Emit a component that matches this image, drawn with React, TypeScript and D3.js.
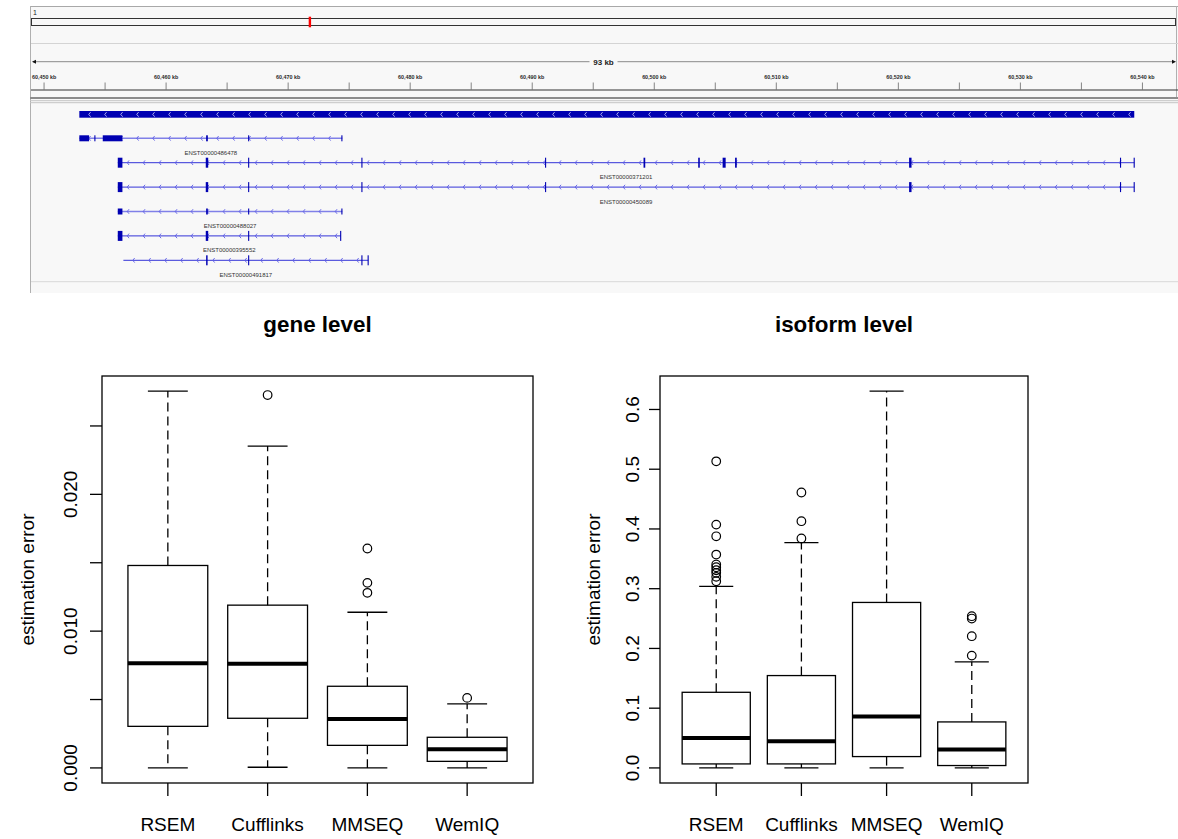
import React from 'react';
import * as d3 from 'd3';

// =============================================================================
// Data
// =============================================================================

// genome browser (chr1, positions in kb)
const CHR_LENGTH_KB = 249250.6;
const VIEW_START = 60448.93;
const VIEW_END = 60542.75;
const RULER_TICKS = d3.range(60450, 60541, 5);
const GENE_START = 60452.89;
const GENE_END = 60539.33;

const TX_NAMES = [
  'ENST00000486478',
  'ENST00000371201',
  'ENST00000450089',
  'ENST00000488027',
  'ENST00000395552',
  'ENST00000491817',
];
const TX_START = [60452.89, 60456.04, 60456.04, 60456.04, 60456.04, 60456.5];
const TX_END = [60474.44, 60539.33, 60539.33, 60474.44, 60474.31, 60476.57];
const TX_CODING = [false, true, true, false, true, true];
const TX_EXONS: [number, number][][] = [
  [[60452.89, 60453.69], [60454.12, 60454.2], [60454.81, 60456.42], [60463.28, 60463.42], [60466.72, 60466.78], [60474.36, 60474.44]],
  [[60456.04, 60456.42], [60463.25, 60463.45], [60466.72, 60466.78], [60476.0, 60476.08], [60491.05, 60491.1], [60499.12, 60499.26], [60503.6, 60503.73], [60505.6, 60505.85], [60506.62, 60506.76], [60520.88, 60521.08], [60538.16, 60538.22], [60539.28, 60539.33]],
  [[60456.04, 60456.42], [60463.25, 60463.45], [60466.72, 60466.78], [60476.0, 60476.08], [60491.05, 60491.1], [60520.88, 60521.08], [60538.16, 60538.22], [60539.28, 60539.33]],
  [[60456.04, 60456.42], [60463.28, 60463.42], [60466.72, 60466.78], [60474.36, 60474.44]],
  [[60456.04, 60456.42], [60463.25, 60463.45], [60466.72, 60466.78], [60474.26, 60474.31]],
  [[60463.28, 60463.4], [60466.72, 60466.78], [60476.0, 60476.06], [60476.51, 60476.57]],
];

// boxplots
const METHODS = ['RSEM', 'Cufflinks', 'MMSEQ', 'WemIQ'];

const GENE_LOW = [0, 0.00005, 0, 0];
const GENE_Q1 = [0.00304, 0.00363, 0.00165, 0.00048];
const GENE_MED = [0.00765, 0.00761, 0.00358, 0.00136];
const GENE_Q3 = [0.0148, 0.0119, 0.00597, 0.00224];
const GENE_HIGH = [0.02755, 0.02353, 0.01138, 0.00468];
const GENE_OUT = [[], [0.02726], [0.01604, 0.01353, 0.0128], [0.00512]];
const GENE_TICKS = [0, 0.005, 0.01, 0.015, 0.02, 0.025];
const GENE_LABELS = [0, 0.01, 0.02];

const ISO_LOW = [0, 0, 0, 0];
const ISO_Q1 = [0.0067, 0.0067, 0.019, 0.004];
const ISO_MED = [0.0503, 0.0446, 0.086, 0.0307];
const ISO_Q3 = [0.1266, 0.1546, 0.277, 0.077];
const ISO_HIGH = [0.304, 0.377, 0.6308, 0.1776];
const ISO_OUT = [
  [0.5132, 0.4073, 0.3877, 0.3571, 0.3404, 0.3359, 0.3309, 0.3265, 0.3198, 0.3125],
  [0.461, 0.413, 0.384],
  [],
  [0.254, 0.25, 0.2205, 0.188],
];
const ISO_TICKS = [0, 0.1, 0.2, 0.3, 0.4, 0.5, 0.6];
const ISO_LABELS = ISO_TICKS;

// =============================================================================
// Constants
// =============================================================================

const W = 1178;
const H = 839;
const FONT = '"Liberation Sans", Arial, Helvetica, sans-serif';
const IGV_BG = '#f8f8f8';
const GENE_BLUE = '#0000b2';
const PLOT_TOP = 376;
const PLOT_BOTTOM = 783;

// =============================================================================
// Genome browser panel
// =============================================================================

function GenomeBrowser() {
  const x = d3.scaleLinear().domain([VIEW_START, VIEW_END]).range([31, 1176]);
  const chrX = d3.scaleLinear().domain([0, CHR_LENGTH_KB]).range([31, 1176]);
  const markX0 = chrX(VIEW_START);
  const markX1 = Math.max(chrX(VIEW_END), markX0 + 2.4);
  const fmt = d3.format(',');

  const rowY = (i: number) => 138.3 + i * 24.4;

  const chevrons = (x0: number, x1: number, y: number, color: string, key: string) => {
    const out = [];
    for (let cx = x0 + 10; cx < x1 - 4; cx += 16) {
      out.push(
        <path
          key={`${key}-${cx}`}
          d={`M${cx + 1.3},${y - 2.3} L${cx - 0.6},${y} L${cx + 1.3},${y + 2.3}`}
          fill="none"
          stroke={color}
          strokeWidth={0.9}
        />
      );
    }
    return out;
  };

  const kbLabel = `${Math.floor(VIEW_END - VIEW_START)} kb`;
  const midX = (x(VIEW_START) + x(VIEW_END)) / 2;

  return (
    <g>
      {/* panel background */}
      <rect x={30} y={6} width={W - 30} height={287} fill={IGV_BG} />
      <line x1={30} y1={6.5} x2={W} y2={6.5} stroke="#a8a8a8" strokeWidth={1} />
      <line x1={30.5} y1={6} x2={30.5} y2={293} stroke="#b0b0b0" strokeWidth={1} />
      <line x1={W - 1.5} y1={6} x2={W - 1.5} y2={98} stroke="#b0b0b0" strokeWidth={1} />

      {/* chromosome ideogram */}
      <text x={33} y={15} fontSize={7} fontFamily={FONT} fill="#222">1</text>
      <rect x={31.5} y={18.5} width={1144} height={7} fill="none" stroke="#333" strokeWidth={1} />
      <rect x={markX0} y={16.7} width={markX1 - markX0} height={10.6} fill="#ff0000" />
      <line x1={31} y1={43.5} x2={W} y2={43.5} stroke="#d4d4d4" strokeWidth={1} />

      {/* ruler */}
      <line x1={x(VIEW_START) + 2} y1={61.7} x2={midX - 14} y2={61.7} stroke="#8a8a8a" strokeWidth={1} />
      <line x1={midX + 14} y1={61.7} x2={x(VIEW_END) - 2} y2={61.7} stroke="#8a8a8a" strokeWidth={1} />
      <path d={`M${x(VIEW_START) + 1},61.7 L${x(VIEW_START) + 5},59.7 L${x(VIEW_START) + 5},63.7 Z`} fill="#111" />
      <path d={`M${x(VIEW_END)},61.7 L${x(VIEW_END) - 4},59.7 L${x(VIEW_END) - 4},63.7 Z`} fill="#111" />
      <text x={midX} y={64.5} textAnchor="middle" fontSize={8} fontWeight="bold" fontFamily={FONT} fill="#222">
        {kbLabel}
      </text>
      {RULER_TICKS.map((t) => (
        <g key={t}>
          <line x1={x(t)} y1={82.5} x2={x(t)} y2={89.5} stroke="#777" strokeWidth={0.9} />
          {t % 10 === 0 && (
            <text x={x(t)} y={79} textAnchor="middle" fontSize={5.4} fontWeight="bold" fontFamily={FONT} fill="#2a2a2a">
              {`${fmt(t)} kb`}
            </text>
          )}
        </g>
      ))}
      <line x1={31} y1={90} x2={W} y2={90} stroke="#333" strokeWidth={1} />
      <line x1={30} y1={98} x2={W} y2={98} stroke="#8c8c8c" strokeWidth={2} />
      <line x1={30} y1={100.7} x2={W} y2={100.7} stroke="#c4c4c4" strokeWidth={1} />
      <line x1={30} y1={102.7} x2={W} y2={102.7} stroke="#c4c4c4" strokeWidth={1} />

      {/* collapsed gene */}
      <rect x={x(GENE_START)} y={111} width={x(GENE_END) - x(GENE_START)} height={6.7} fill={GENE_BLUE} />
      {chevrons(x(GENE_START), x(GENE_END), 114.4, '#b8b8f0', 'gene')}

      {/* transcripts */}
      {TX_NAMES.map((name, i) => {
        const y = rowY(i);
        const xs = x(TX_START[i]);
        const xe = x(TX_END[i]);
        const coding = TX_CODING[i];
        const lineColor = coding ? '#3434d8' : '#8080e8';
        const exonH = coding ? 10 : 6;
        return (
          <g key={name}>
            <line x1={xs} y1={y} x2={xe} y2={y} stroke={lineColor} strokeWidth={coding ? 1 : 1.6} />
            {chevrons(xs, xe, y, '#5c5ce6', name)}
            {TX_EXONS[i].map(([a, b], j) => {
              const ex0 = x(a);
              const ew = Math.max(1.1, x(b) - ex0);
              return <rect key={j} x={ex0} y={y - exonH / 2} width={ew} height={exonH} fill={GENE_BLUE} />;
            })}
            <text x={(xs + xe) / 2} y={y + 16.5} textAnchor="middle" fontSize={6} fontFamily={FONT} fill="#333">
              {name}
            </text>
          </g>
        );
      })}
      <line x1={31} y1={281.7} x2={W} y2={281.7} stroke="#d8d8d8" strokeWidth={1} />
    </g>
  );
}

// =============================================================================
// Boxplot panel (R style)
// =============================================================================

interface BoxPanelProps {
  x0: number;
  x1: number;
  title: string;
  low: number[];
  q1: number[];
  med: number[];
  q3: number[];
  high: number[];
  outliers: number[][];
  ticks: number[];
  labels: number[];
  fmt: (v: number) => string;
  labelOffset: number;
  titleOffset: number;
  tickLen: number;
}

function BoxPanel({
  x0, x1, title, low, q1, med, q3, high, outliers, ticks, labels, fmt, labelOffset, titleOffset, tickLen,
}: BoxPanelProps) {
  const allVals = [...low, ...high, ...outliers.flat()];
  const lo = d3.min(allVals) as number;
  const hi = d3.max(allVals) as number;
  const pad = (hi - lo) * 0.04;
  const y = d3.scaleLinear().domain([lo - pad, hi + pad]).range([PLOT_BOTTOM, PLOT_TOP]);
  const x = d3.scaleLinear().domain([0.34, 4.66]).range([x0, x1]);
  const bw = x(0.4) - x(0);
  const sw = x(0.2) - x(0);
  const lw = 1.3;
  const dash = '9,5';

  return (
    <g fontFamily={FONT}>
      <text x={(x0 + x1) / 2} y={332} textAnchor="middle" fontSize={22.4} fontWeight="bold" fill="#000">
        {title}
      </text>

      {METHODS.map((m, i) => {
        const cx = x(i + 1);
        return (
          <g key={m}>
            {/* whiskers */}
            <line x1={cx} y1={y(q3[i])} x2={cx} y2={y(high[i])} stroke="#000" strokeWidth={lw} strokeDasharray={dash} />
            <line x1={cx} y1={y(q1[i])} x2={cx} y2={y(low[i])} stroke="#000" strokeWidth={lw} strokeDasharray={dash} />
            <line x1={cx - sw} y1={y(high[i])} x2={cx + sw} y2={y(high[i])} stroke="#000" strokeWidth={lw} />
            <line x1={cx - sw} y1={y(low[i])} x2={cx + sw} y2={y(low[i])} stroke="#000" strokeWidth={lw} />
            {/* box */}
            <rect
              x={cx - bw}
              y={y(q3[i])}
              width={2 * bw}
              height={y(q1[i]) - y(q3[i])}
              fill="none"
              stroke="#000"
              strokeWidth={lw}
            />
            <line x1={cx - bw} y1={y(med[i])} x2={cx + bw} y2={y(med[i])} stroke="#000" strokeWidth={4} />
            {outliers[i].map((o, j) => (
              <circle key={j} cx={cx} cy={y(o)} r={4.3} fill="none" stroke="#000" strokeWidth={1.2} />
            ))}
            {/* x axis tick + label */}
            <line x1={cx} y1={PLOT_BOTTOM} x2={cx} y2={PLOT_BOTTOM + 13} stroke="#000" strokeWidth={lw} />
            <text x={cx} y={831} textAnchor="middle" fontSize={19} fill="#000">
              {m}
            </text>
          </g>
        );
      })}

      {/* y axis */}
      {ticks.map((t) => (
        <line key={t} x1={x0} y1={y(t)} x2={x0 - tickLen} y2={y(t)} stroke="#000" strokeWidth={lw} />
      ))}
      {labels.map((t) => (
        <text
          key={t}
          transform={`translate(${x0 - labelOffset},${y(t)}) rotate(-90)`}
          dy="0.35em"
          textAnchor="middle"
          fontSize={19}
          fill="#000"
        >
          {fmt(t)}
        </text>
      ))}
      <text
        transform={`translate(${x0 - titleOffset},${(PLOT_TOP + PLOT_BOTTOM) / 2}) rotate(-90)`}
        dy="0.35em"
        textAnchor="middle"
        fontSize={19}
        fill="#000"
      >
        estimation error
      </text>

      {/* frame */}
      <rect x={x0} y={PLOT_TOP} width={x1 - x0} height={PLOT_BOTTOM - PLOT_TOP} fill="none" stroke="#000" strokeWidth={lw} />
    </g>
  );
}

// =============================================================================
// App
// =============================================================================

export default function App() {
  return (
    <svg
      width={W}
      height={H}
      viewBox={`0 0 ${W} ${H}`}
      style={{ position: 'absolute', left: 0, top: 0, background: '#fff', display: 'block' }}
    >
      <rect x={0} y={0} width={W} height={H} fill="#fff" />
      <GenomeBrowser />
      <BoxPanel
        x0={102}
        x1={533}
        title="gene level"
        low={GENE_LOW}
        q1={GENE_Q1}
        med={GENE_MED}
        q3={GENE_Q3}
        high={GENE_HIGH}
        outliers={GENE_OUT}
        ticks={GENE_TICKS}
        labels={GENE_LABELS}
        fmt={d3.format('.3f')}
        labelOffset={32}
        titleOffset={75}
        tickLen={12}
      />
      <BoxPanel
        x0={660}
        x1={1028}
        title="isoform level"
        low={ISO_LOW}
        q1={ISO_Q1}
        med={ISO_MED}
        q3={ISO_Q3}
        high={ISO_HIGH}
        outliers={ISO_OUT}
        ticks={ISO_TICKS}
        labels={ISO_LABELS}
        fmt={d3.format('.1f')}
        labelOffset={28}
        titleOffset={67}
        tickLen={11}
      />
    </svg>
  );
}
